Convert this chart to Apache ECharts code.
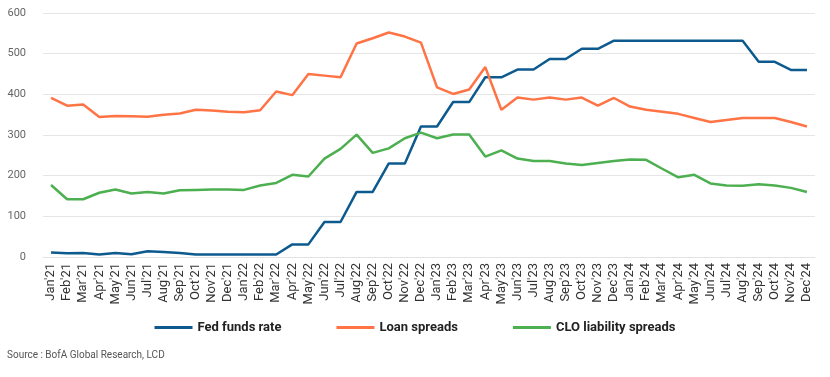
<!DOCTYPE html>
<html>
<head>
<meta charset="utf-8">
<script src="https://cdn.jsdelivr.net/npm/echarts@6/dist/echarts.min.js"></script>
<style>
  html, body { margin: 0; padding: 0; background: #fff; }
  #chart { width: 830px; height: 377px; }
</style>
</head>
<body>
<div id="chart"></div>
<script>
// month labels Jan'21 .. Dec'24
const months = ['Jan', 'Feb', 'Mar', 'Apr', 'May', 'Jun', 'Jul', 'Aug', 'Sep', 'Oct', 'Nov', 'Dec']
const years = ['21', '22', '23', '24']
const categories = []
years.forEach(y => months.forEach(m => categories.push(m + "'" + y)))

const fedFunds = [
  11, 9, 10, 6, 10, 7, 14, 12, 10, 6, 6, 6,
  6, 6, 6, 31, 31, 86, 86, 160, 160, 230, 230, 321,
  321, 381, 381, 442, 442, 461, 461, 487, 487, 512, 512, 532,
  532, 532, 532, 532, 532, 532, 532, 532, 480, 480, 460, 460
]
const loanSpreads = [
  391, 372, 375, 344, 347, 346, 345, 350, 353, 362, 360, 357,
  356, 361, 407, 398, 450, 446, 442, 525, 538, 552, 542, 527,
  417, 401, 412, 467, 362, 392, 387, 392, 387, 392, 372, 391,
  370, 362, 357, 352, 342, 332, 337, 342, 342, 342, 332, 321
]
const cloSpreads = [
  177, 142, 142, 158, 166, 156, 160, 156, 164, 165, 166, 166,
  165, 176, 182, 202, 198, 242, 266, 301, 256, 267, 292, 306,
  292, 301, 301, 247, 262, 242, 236, 236, 230, 226, 231, 236,
  240, 239, 217, 196, 202, 181, 176, 175, 179, 176, 170, 160
]
const yTicks = [0, 100, 200, 300, 400, 500, 600]

const chart = echarts.init(document.getElementById('chart'))

const lineSeries = (name, data, color) => ({
  name: name,
  type: 'line',
  data: data,
  showSymbol: false,
  symbol: 'none',
  lineStyle: { color: color, width: 2.5 },
  itemStyle: { color: color }
})

chart.setOption({
  animation: false,
  textStyle: { fontFamily: 'Roboto' },
  grid: { left: 43, right: 15, top: 13, bottom: 120 },
  xAxis: {
    type: 'category',
    data: categories,
    boundaryGap: true,
    axisLine: { lineStyle: { color: '#e3e3e3' } },
    axisTick: { show: false },
    axisLabel: {
      rotate: 90,
      interval: 0,
      fontSize: 13,
      color: '#333',
      margin: 6
    }
  },
  yAxis: {
    type: 'value',
    min: yTicks[0],
    max: yTicks[yTicks.length - 1],
    interval: 100,
    axisLine: { show: false },
    axisTick: { show: false },
    axisLabel: { fontSize: 11, color: '#666', margin: 17 },
    splitLine: { lineStyle: { color: '#e6e6e6', width: 1 } }
  },
  legend: {
    bottom: 38,
    left: 'center',
    icon: 'rect',
    itemWidth: 38,
    itemHeight: 3,
    itemGap: 55,
    textStyle: { fontSize: 13, fontWeight: 'bold', color: '#222' },
    data: ['Fed funds rate', 'Loan spreads', 'CLO liability spreads']
  },
  graphic: [{
    type: 'text',
    left: 7,
    top: 350,
    style: { text: 'Source : BofA Global Research, LCD', fontSize: 10, fill: '#555', fontFamily: 'Roboto' }
  }],
  series: [
    lineSeries('Fed funds rate', fedFunds, '#0d5a8e'),
    lineSeries('Loan spreads', loanSpreads, '#ff7345'),
    lineSeries('CLO liability spreads', cloSpreads, '#4caf50')
  ]
})
</script>
</body>
</html>
